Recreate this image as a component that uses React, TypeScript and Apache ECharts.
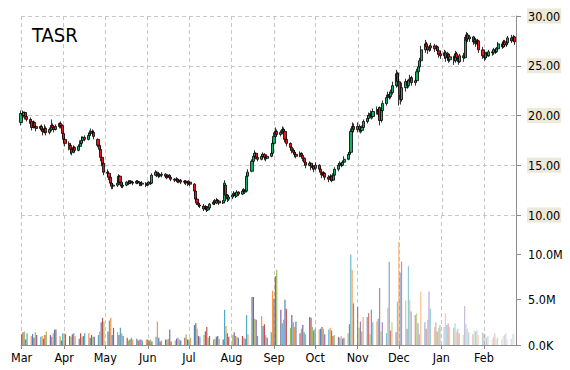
import React, { useEffect, useRef } from "react";
import * as echarts from "echarts";

const TITLE = "TASR";
const MONTH_NAMES = ["Jan", "Feb", "Mar", "Apr", "May", "Jun", "Jul", "Aug", "Sep", "Oct", "Nov", "Dec"];
// [year, monthIndex, lastDayIncluded]
const MONTHS: [number, number, number][] = [
  [2004, 2, 31], [2004, 3, 30], [2004, 4, 31], [2004, 5, 30], [2004, 6, 31], [2004, 7, 31],
  [2004, 8, 30], [2004, 9, 31], [2004, 10, 30], [2004, 11, 31], [2005, 0, 31], [2005, 1, 23],
];
const X_MIN: [number, number, number] = [2004, 2, 1];
const X_MAX: [number, number, number] = [2005, 1, 24];

const PRICE_MIN = 10;
const PRICE_MAX = 30;
const PRICE_STEP = 5;
const VOL_STEP = 5e6;

// daily [open, close, low, high]
const MAR: number[][] = [
  [19.3, 20.2, 19.0, 20.5], [20.2, 20.0, 19.7, 20.5], [20.0, 20.3, 19.8, 20.4], [20.3, 19.9, 19.6, 20.4],
  [19.9, 19.6, 19.4, 20.1], [19.6, 19.2, 19.0, 19.8], [19.4, 18.8, 18.5, 19.6], [18.8, 19.3, 18.7, 19.5],
  [19.3, 18.9, 18.7, 19.4], [18.9, 18.7, 18.4, 19.1], [18.7, 18.9, 18.5, 19.0], [18.9, 18.6, 18.4, 19.1],
  [18.6, 18.4, 18.0, 18.8], [18.3, 18.7, 18.2, 19.1], [18.7, 18.3, 18.0, 18.9], [18.3, 18.6, 18.1, 18.8],
  [18.6, 19.0, 18.4, 19.6], [19.0, 18.8, 18.6, 19.2], [18.8, 18.6, 18.3, 19.0], [18.6, 18.9, 18.5, 19.1],
  [18.9, 19.2, 18.7, 19.3], [19.2, 19.0, 18.7, 19.4], [19.0, 18.2, 17.8, 19.1],
];
const APR: number[][] = [
  [18.2, 17.6, 17.3, 18.3], [17.6, 17.2, 16.9, 17.8], [17.2, 17.0, 16.5, 17.4], [17.0, 16.6, 16.1, 17.1],
  [16.6, 16.3, 16.0, 16.8], [16.3, 16.8, 16.2, 17.0], [16.8, 16.5, 16.3, 16.9], [16.5, 16.9, 16.4, 17.1],
  [16.9, 17.2, 16.8, 17.5], [17.2, 17.5, 17.0, 17.9], [17.5, 17.8, 17.3, 17.9], [17.8, 17.6, 17.4, 18.0],
  [17.6, 18.0, 17.5, 18.3], [18.0, 18.2, 17.8, 18.5], [18.2, 18.4, 18.0, 18.7], [18.4, 18.3, 18.0, 18.6],
  [18.3, 17.9, 17.6, 18.5], [17.6, 17.0, 16.8, 17.7], [17.0, 16.6, 16.4, 17.2], [16.6, 15.8, 15.4, 16.9],
  [15.8, 15.1, 14.9, 16.0], [15.2, 14.3, 14.0, 15.3],
];
const MAY: number[][] = [
  [14.3, 14.2, 13.8, 14.6], [14.2, 13.8, 13.5, 14.4], [13.8, 13.2, 12.9, 13.9], [13.2, 12.9, 12.6, 13.3],
  [12.9, 13.0, 12.6, 13.2], [13.0, 13.2, 12.8, 13.4], [13.3, 13.9, 13.2, 14.1], [13.9, 13.3, 13.0, 14.0],
  [13.3, 12.9, 12.7, 13.4], [12.9, 13.0, 12.7, 13.2], [13.0, 13.3, 12.9, 13.4], [13.3, 13.2, 13.0, 13.5],
  [13.2, 13.4, 13.1, 13.5], [13.4, 13.3, 13.1, 13.5], [13.3, 13.2, 13.0, 13.4], [13.2, 13.4, 13.1, 13.5],
  [13.4, 13.3, 13.1, 13.5], [13.3, 13.2, 12.9, 13.4], [13.2, 13.1, 12.9, 13.3], [13.1, 13.2, 12.9, 13.4],
  [13.2, 13.0, 12.8, 13.3],
];
const JUN: number[][] = [
  [13.0, 13.1, 12.9, 13.3], [13.1, 13.3, 13.0, 13.4], [13.3, 13.2, 13.0, 13.4], [13.2, 14.0, 13.1, 14.2],
  [14.0, 14.3, 13.9, 14.5], [14.3, 14.1, 13.8, 14.4], [14.1, 13.9, 13.7, 14.2], [13.9, 14.0, 13.8, 14.2],
  [14.0, 14.1, 13.8, 14.3], [14.1, 13.9, 13.7, 14.2], [13.9, 13.8, 13.6, 14.0], [13.8, 14.0, 13.7, 14.1],
  [14.0, 13.8, 13.6, 14.1], [13.8, 13.6, 13.4, 13.9], [13.6, 13.5, 13.3, 13.7], [13.5, 13.6, 13.3, 13.8],
  [13.6, 13.4, 13.2, 13.7], [13.4, 13.5, 13.2, 13.6], [13.5, 13.3, 13.1, 13.6], [13.3, 13.4, 13.1, 13.5],
  [13.4, 13.3, 13.0, 13.5], [13.3, 13.2, 12.9, 13.4],
];
const JUL: number[][] = [
  [13.2, 13.3, 13.0, 13.5], [13.3, 13.1, 12.9, 13.4], [13.1, 12.4, 12.0, 13.2], [12.4, 11.6, 11.3, 12.5],
  [11.6, 11.2, 11.0, 11.8], [11.2, 11.0, 10.8, 11.3], [11.0, 10.9, 10.7, 11.2], [10.9, 10.6, 10.4, 11.1],
  [10.6, 10.8, 10.5, 11.0], [10.8, 10.5, 10.3, 10.9], [10.5, 10.7, 10.4, 10.9], [10.7, 11.1, 10.6, 11.2],
  [11.1, 11.3, 11.0, 11.5], [11.3, 11.2, 11.0, 11.6], [11.2, 11.5, 11.1, 11.7], [11.5, 11.4, 11.2, 11.6],
  [11.4, 11.2, 11.0, 11.5], [11.2, 11.3, 11.1, 11.5], [11.4, 13.2, 11.3, 13.5], [13.0, 12.0, 11.8, 13.1],
  [12.0, 11.6, 11.3, 12.1], [11.6, 11.8, 11.4, 12.0],
];
const AUG: number[][] = [
  [11.8, 12.0, 11.6, 12.2], [12.0, 12.2, 11.8, 12.4], [12.2, 11.9, 11.7, 12.3], [11.9, 12.3, 11.8, 12.5],
  [12.3, 12.1, 11.9, 12.4], [12.1, 12.4, 12.0, 12.6], [12.4, 12.5, 12.2, 12.7], [12.5, 12.3, 12.1, 12.6],
  [12.4, 13.9, 12.3, 14.1], [13.9, 14.3, 13.8, 14.6], [14.4, 15.4, 14.3, 15.6], [15.4, 15.9, 15.2, 16.2],
  [15.9, 16.2, 15.7, 16.5], [16.2, 15.8, 15.6, 16.3], [15.8, 15.6, 15.4, 16.0], [15.6, 15.9, 15.5, 16.1],
  [15.9, 16.1, 15.7, 16.3], [16.1, 15.8, 15.5, 16.2], [15.8, 15.7, 15.4, 16.0], [15.7, 15.9, 15.6, 16.1],
  [15.9, 16.2, 15.8, 16.4], [16.2, 17.2, 16.0, 17.5],
];
const SEP: number[][] = [
  [17.2, 17.9, 17.0, 18.3], [17.9, 18.4, 17.7, 18.8], [18.4, 18.1, 17.9, 18.6], [18.1, 18.3, 17.9, 18.5],
  [18.3, 18.6, 18.1, 18.9], [18.6, 18.4, 18.2, 18.8], [18.4, 17.6, 17.3, 18.6], [17.6, 17.2, 16.9, 17.8],
  [17.2, 16.8, 16.5, 17.3], [16.8, 16.5, 16.2, 17.0], [16.5, 16.3, 16.1, 16.7], [16.3, 16.1, 15.8, 16.5],
  [16.1, 15.9, 15.7, 16.3], [15.9, 16.2, 15.8, 16.4], [16.2, 16.0, 15.8, 16.3], [16.0, 15.7, 15.4, 16.1],
  [15.7, 15.3, 15.0, 15.8], [15.3, 15.0, 14.7, 15.4], [15.0, 15.2, 14.9, 15.4], [15.2, 14.8, 14.5, 15.3],
  [14.8, 14.9, 14.6, 15.1], [14.9, 14.6, 14.3, 15.0],
];
const OCT: number[][] = [
  [14.7, 15.0, 14.5, 15.3], [15.0, 14.6, 14.4, 15.1], [14.6, 14.3, 14.0, 14.8], [14.3, 14.0, 13.7, 14.5],
  [14.0, 14.2, 13.8, 14.4], [14.2, 13.8, 13.5, 14.3], [13.8, 13.6, 13.3, 14.0], [13.6, 13.9, 13.4, 14.1],
  [13.9, 13.5, 13.3, 14.0], [13.5, 14.0, 13.4, 14.2], [14.0, 14.6, 13.9, 14.8], [14.6, 15.0, 14.4, 15.2],
  [15.0, 15.2, 14.8, 15.4], [15.2, 15.0, 14.8, 15.3], [15.0, 15.3, 14.9, 15.5], [15.3, 15.6, 15.2, 15.9],
  [15.6, 16.1, 15.5, 16.3], [16.1, 16.3, 15.9, 16.6], [16.3, 18.4, 16.2, 18.7], [18.4, 18.9, 18.2, 19.3],
  [18.9, 18.6, 18.3, 19.2],
];
const NOV: number[][] = [
  [18.6, 18.9, 18.3, 19.3], [18.9, 18.6, 18.3, 19.1], [18.6, 18.5, 18.2, 18.9], [18.5, 18.8, 18.3, 19.0],
  [18.8, 19.4, 18.7, 19.6], [19.4, 19.7, 19.2, 20.0], [19.7, 20.0, 19.5, 20.3], [20.0, 20.2, 19.7, 20.5],
  [20.2, 19.9, 19.6, 20.4], [19.9, 20.4, 19.7, 20.7], [20.4, 20.6, 20.1, 20.9], [20.6, 20.1, 19.9, 20.8],
  [20.8, 19.5, 19.0, 20.9], [19.5, 20.5, 19.3, 20.7], [20.5, 21.2, 20.3, 21.5], [21.2, 21.8, 21.0, 22.1],
  [21.8, 22.1, 21.5, 22.4], [22.1, 21.9, 21.6, 22.4], [21.9, 22.3, 21.7, 22.6], [22.3, 23.0, 22.1, 23.4],
  [23.0, 24.2, 22.8, 24.6], [24.2, 23.4, 22.9, 24.4],
];
const DEC: number[][] = [
  [23.4, 22.0, 21.0, 24.3], [22.0, 21.6, 21.1, 22.5], [21.6, 22.8, 21.4, 23.3], [22.8, 23.4, 22.4, 23.7],
  [23.4, 23.0, 22.7, 23.6], [23.0, 23.5, 22.8, 23.7], [23.5, 23.8, 23.2, 24.1], [23.8, 23.3, 23.0, 24.0],
  [23.3, 23.5, 23.0, 23.7], [23.5, 24.4, 23.4, 24.7], [24.4, 24.9, 24.2, 25.2], [24.9, 25.5, 24.7, 25.8],
  [25.5, 26.6, 25.3, 27.0], [26.6, 27.2, 26.3, 27.6], [27.2, 26.9, 26.6, 27.4], [26.9, 26.6, 26.2, 27.1],
  [26.6, 26.8, 26.4, 27.1], [26.8, 27.0, 26.5, 27.3], [27.0, 26.7, 26.4, 27.2], [26.7, 26.9, 26.5, 27.1],
  [26.9, 26.5, 26.1, 27.0], [26.5, 26.2, 25.8, 26.7], [26.2, 26.0, 25.7, 26.5],
];
const JAN: number[][] = [
  [26.0, 26.3, 25.7, 26.6], [26.3, 25.8, 25.4, 26.5], [25.8, 26.1, 25.5, 26.4], [26.1, 25.6, 25.3, 26.3],
  [25.6, 25.9, 25.4, 26.2], [25.9, 25.5, 25.1, 26.0], [25.5, 26.2, 25.3, 26.5], [26.2, 25.8, 25.6, 26.4],
  [25.8, 25.4, 25.1, 26.0], [25.4, 26.0, 25.3, 26.2], [26.0, 25.8, 25.4, 26.3], [25.8, 27.6, 25.7, 27.9],
  [27.6, 28.1, 27.3, 28.4], [28.1, 27.7, 27.4, 28.3], [27.7, 27.9, 27.4, 28.1], [27.9, 27.4, 27.1, 28.0],
  [27.4, 27.6, 27.2, 27.9], [27.6, 27.2, 26.9, 27.8], [27.2, 27.5, 27.0, 27.7], [27.5, 26.6, 26.3, 27.6],
  [26.6, 26.0, 25.7, 26.9],
];
const FEB: number[][] = [
  [26.0, 25.8, 25.5, 26.3], [25.8, 26.2, 25.6, 26.4], [26.2, 26.0, 25.8, 26.4], [26.0, 26.4, 25.9, 26.6],
  [26.4, 26.3, 26.0, 26.6], [26.3, 26.6, 26.1, 26.8], [26.6, 26.4, 26.2, 26.8], [26.4, 26.7, 26.3, 26.9],
  [26.7, 27.2, 26.6, 27.4], [27.2, 26.9, 26.7, 27.4], [26.9, 27.4, 26.8, 27.6], [27.4, 27.1, 26.9, 27.6],
  [27.1, 27.3, 26.9, 27.5], [27.3, 27.8, 27.2, 28.0], [27.8, 27.5, 27.3, 28.1], [27.5, 27.9, 27.4, 28.1],
  [27.9, 27.4, 27.1, 28.0],
];
const OHLC_BY_MONTH = [MAR, APR, MAY, JUN, JUL, AUG, SEP, OCT, NOV, DEC, JAN, FEB];

// daily volume, millions of shares
const VOL_MAR = [1.2, 1.4, 1.5, 0.6, 1.3, 1.0, 1.2, 0.8, 1.4, 1.1, 0.9, 1.0, 0.7, 1.1, 1.5, 1.1, 0.9, 1.3, 1.7, 1.7, 1.0, 0.5, 1.3];
const VOL_APR = [1.3, 1.2, 1.0, 0.9, 1.2, 1.3, 1.0, 0.7, 1.3, 0.9, 1.0, 1.3, 1.3, 0.8, 1.1, 0.9, 0.9, 1.1, 1.5, 2.5, 3.0, 2.6];
const VOL_MAY = [1.5, 2.7, 3.0, 1.1, 1.9, 1.4, 1.1, 1.9, 1.3, 1.0, 0.8, 0.5, 0.6, 0.8, 0.6, 0.7, 0.5, 0.6, 0.6, 0.5, 0.6];
const VOL_JUN = [0.6, 0.5, 0.6, 0.4, 0.9, 2.6, 0.8, 0.4, 0.5, 0.6, 0.6, 0.7, 1.7, 0.4, 0.5, 0.7, 0.8, 0.6, 0.5, 0.8, 1.2, 0.6];
const VOL_JUL = [0.6, 0.8, 2.2, 2.4, 1.8, 1.0, 0.9, 1.1, 1.5, 2.0, 0.8, 1.0, 0.6, 0.7, 0.9, 1.0, 0.7, 0.6, 3.9, 2.1, 1.3, 0.9];
const VOL_AUG = [1.1, 1.4, 1.0, 0.9, 0.8, 1.0, 0.8, 0.7, 3.3, 1.2, 5.3, 5.3, 2.9, 2.8, 1.0, 3.2, 2.1, 2.3, 1.1, 0.8, 1.4, 6.0];
const VOL_SEP = [5.1, 7.6, 8.3, 3.9, 2.4, 2.8, 5.0, 4.0, 1.9, 3.3, 2.5, 2.0, 2.6, 1.3, 1.8, 2.2, 1.4, 1.2, 3.1, 3.0, 2.0, 1.6];
const VOL_OCT = [1.8, 1.7, 1.8, 2.0, 1.8, 1.2, 1.7, 1.9, 1.6, 1.0, 1.1, 0.9, 0.8, 1.0, 0.7, 0.8, 1.3, 2.3, 10.0, 8.3, 4.6];
const VOL_NOV = [4.2, 1.9, 2.6, 1.5, 3.1, 3.1, 3.5, 1.2, 3.9, 2.5, 2.6, 2.9, 6.3, 1.5, 2.5, 1.3, 4.1, 9.2, 1.6, 2.5, 1.4, 4.8];
const VOL_DEC = [11.4, 8.0, 9.2, 4.9, 1.8, 8.7, 5.0, 3.7, 3.3, 3.5, 2.4, 1.2, 5.9, 2.5, 1.8, 2.8, 5.9, 4.0, 2.0, 2.5, 1.5, 1.9, 2.2];
const VOL_JAN = [2.0, 3.5, 2.2, 2.4, 2.0, 1.9, 2.4, 1.5, 1.8, 1.3, 1.1, 4.3, 2.3, 1.8, 1.4, 1.2, 1.6, 1.5, 1.6, 1.1, 1.4];
const VOL_FEB = [1.3, 1.2, 0.8, 1.0, 0.6, 0.9, 1.3, 0.7, 0.8, 0.6, 1.0, 1.1, 1.3, 0.6, 0.7, 1.2, 1.3];
const VOL_BY_MONTH = [VOL_MAR, VOL_APR, VOL_MAY, VOL_JUN, VOL_JUL, VOL_AUG, VOL_SEP, VOL_OCT, VOL_NOV, VOL_DEC, VOL_JAN, VOL_FEB];

const VOL_COLORS = ["#4F81BD", "#C0504D", "#9BBB59", "#8064A2", "#4BACC6", "#F79646"];
const UP_COLOR = "#12B060";
const DOWN_COLOR = "#F01414";
const FONT = "'DejaVu Sans Condensed', 'Open Sans', sans-serif";

function weekdays(year: number, month: number, lastDay: number): number[] {
  const out: number[] = [];
  for (let d = 1; d <= lastDay; d++) {
    const dt = new Date(year, month, d);
    if (dt.getMonth() !== month) break;
    const w = dt.getDay();
    if (w !== 0 && w !== 6) out.push(dt.getTime());
  }
  return out;
}

export default function App() {
  const ref = useRef<HTMLDivElement>(null);
  useEffect(() => {
    if (!ref.current) return;
    const chart = echarts.init(ref.current, undefined, { renderer: "svg" });

    const candles: any[] = [];
    const volData: any[] = [];
    const total = MONTHS.reduce((s, [y, m, last]) => s + weekdays(y, m, last).length, 0);
    const fadeStart = 150;
    let k = 0;
    MONTHS.forEach(([y, m, last], mi) => {
      const days = weekdays(y, m, last);
      const ohlc = OHLC_BY_MONTH[mi];
      const vols = VOL_BY_MONTH[mi];
      days.forEach((t, i) => {
        if (ohlc[i]) candles.push([t, ohlc[i][0], ohlc[i][1], ohlc[i][2], ohlc[i][3]]);
        if (vols[i] === undefined) return;
        const op = k < fadeStart ? 1 : 1 - 0.75 * (k - fadeStart) / (total - fadeStart);
        volData.push({
          value: [t, vols[i] * 1e6],
          itemStyle: { color: VOL_COLORS[k % VOL_COLORS.length], opacity: op },
        });
        k++;
      });
    });

    const xMin = new Date(X_MIN[0], X_MIN[1], X_MIN[2]).getTime();
    const xMax = new Date(X_MAX[0], X_MAX[1], X_MAX[2]).getTime();
    const split = { show: true, lineStyle: { color: "#C8C8C8", type: [4, 3] as any, width: 1 } };
    const gridLeft = 21;
    const gridRight = 54;
    const volPxPerUnit = 9.06 / 1e6;
    const volMax = 130 / volPxPerUnit;

    chart.setOption({
      animation: false,
      backgroundColor: "#ffffff",
      title: {
        text: TITLE,
        left: 27,
        top: 20,
        textStyle: { fontFamily: FONT, fontSize: 20, fontWeight: "normal", color: "#000" },
      },
      grid: [
        { left: gridLeft, right: gridRight, top: 16, height: 199 },
        { left: gridLeft, right: gridRight, top: 215, height: 130 },
      ],
      xAxis: [
        {
          type: "time", gridIndex: 0, min: xMin, max: xMax, splitNumber: 12,
          axisLine: { show: false }, axisTick: { show: false }, axisLabel: { show: false },
          splitLine: split,
        },
        {
          type: "time", gridIndex: 1, min: xMin, max: xMax, splitNumber: 12,
          axisLine: { show: true, lineStyle: { color: "#8C8C8C" } },
          axisTick: { show: true, length: 4, lineStyle: { color: "#8C8C8C" } },
          axisLabel: {
            show: true, showMaxLabel: false, hideOverlap: false, margin: 6,
            fontFamily: FONT, fontSize: 12.5, color: "#000",
            formatter: (v: number) => MONTH_NAMES[new Date(v).getMonth()],
          },
          splitLine: split,
        },
      ],
      yAxis: [
        {
          type: "value", gridIndex: 0, position: "right", min: PRICE_MIN, max: PRICE_MAX, interval: PRICE_STEP,
          axisLine: { show: true, lineStyle: { color: "#8C8C8C" } },
          axisTick: { show: true, length: 5, lineStyle: { color: "#8C8C8C" } },
          axisLabel: {
            margin: 11, fontFamily: FONT, fontSize: 12.5, color: "#000",
            backgroundColor: "#ECE9D8", padding: [1, 1, 1, 1],
            formatter: (v: number) => v.toFixed(2),
          },
          splitLine: split,
        },
        {
          type: "value", gridIndex: 1, position: "right", min: 0, max: volMax, interval: VOL_STEP,
          axisLine: { show: true, lineStyle: { color: "#8C8C8C" } },
          axisTick: { show: true, length: 5, lineStyle: { color: "#8C8C8C" } },
          axisLabel: {
            margin: 12, showMaxLabel: false, fontFamily: FONT, fontSize: 12.5, color: "#000",
            formatter: (v: number) => (v === 0 ? "0.0K" : (v / 1e6).toFixed(1) + "M"),
          },
          splitLine: { show: false },
        },
      ],
      series: [
        {
          type: "bar", xAxisIndex: 1, yAxisIndex: 1, barWidth: 1.2, data: volData,
        },
        {
          type: "candlestick", xAxisIndex: 0, yAxisIndex: 0, barWidth: 2.6, data: candles,
          itemStyle: {
            color: UP_COLOR, color0: DOWN_COLOR, borderColor: "#000", borderColor0: "#000", borderWidth: 0.8,
          },
        },
      ],
    });
    return () => chart.dispose();
  }, []);
  return <div ref={ref} style={{ width: 570, height: 370, position: "absolute", left: 0, top: 0 }} />;
}
